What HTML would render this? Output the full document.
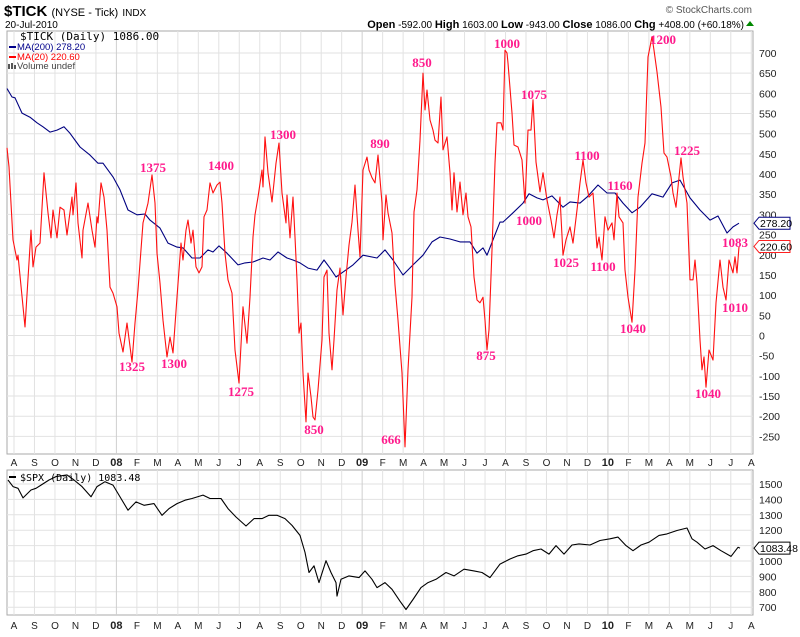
<!DOCTYPE html>
<html><head><meta charset="utf-8"><style>
body{margin:0;background:#fff;width:800px;height:637px;overflow:hidden}
svg{display:block}
text{font-family:"Liberation Sans",sans-serif}
</style></head><body>
<svg id="c" width="800" height="637" viewBox="0 0 800 637">
<g>
<text x="4" y="16" font-size="15" font-weight="bold">$TICK <tspan font-size="11" font-weight="normal">(NYSE - Tick)</tspan> <tspan font-size="10" font-weight="normal">INDX</tspan></text>
<text x="5" y="28" font-size="10">20-Jul-2010</text>
<text x="752" y="13" font-size="10" text-anchor="end" fill="#555">© StockCharts.com</text>
<text x="744" y="28" font-size="10" text-anchor="end"><tspan font-weight="bold" font-size="11">Open</tspan> -592.00 <tspan font-weight="bold" font-size="11">High</tspan> 1603.00 <tspan font-weight="bold" font-size="11">Low</tspan> -943.00 <tspan font-weight="bold" font-size="11">Close</tspan> 1086.00 <tspan font-weight="bold" font-size="11">Chg</tspan> +408.00 (+60.18%)</text>
<polygon points="746,26 754,26 750,21" fill="#080"/>
</g>
<g id="grid"></g>
<g id="marks"></g>
<g id="notes"></g>
<g>
<text x="20" y="40" font-size="11" font-family="Liberation Mono" style="font-family:'DejaVu Sans Mono','Liberation Mono',monospace">$TICK (Daily) 1086.00</text>
<line x1="9" y1="47" x2="16" y2="47" stroke="#00008b" stroke-width="2"/>
<text x="17" y="50" font-size="9.5" fill="#00008b">MA(200) 278.20</text>
<line x1="9" y1="57" x2="16" y2="57" stroke="#f00" stroke-width="2"/>
<text x="17" y="60" font-size="9.5" fill="#f00">MA(20) 220.60</text>
<rect x="8" y="64" width="2" height="5" fill="#555"/><rect x="11" y="63" width="2" height="6" fill="#555"/><rect x="14" y="65" width="2" height="4" fill="#555"/>
<text x="17" y="69" font-size="9.5" fill="#444">Volume undef</text>
<line x1="9" y1="477" x2="16" y2="477" stroke="#000" stroke-width="2"/>
<text x="20" y="481" font-size="10" style="font-family:'DejaVu Sans Mono',monospace">$SPX (Daily) 1083.48</text>
</g>
</svg>
<script>
// ---- data ----
const monthLabels=["A","S","O","N","D","08","F","M","A","M","J","J","A","S","O","N","D","09","F","M","A","M","J","J","A","S","O","N","D","10","F","M","A","M","J","J","A"];
const tickTicks=[700,650,600,550,500,450,400,350,300,250,200,150,100,50,0,-50,-100,-150,-200,-250];
const spxTicks=[1500,1400,1300,1200,1100,1000,900,800,700];
// [session, value]
const ma20=[[0,465],[2,418],[6,237],[10,187],[11,199],[18,21],[24,261],[26,170],[29,219],[33,229],[37,403],[41,304],[44,242],[46,311],[50,242],[53,318],[57,311],[60,249],[65,343],[66,299],[69,378],[71,279],[75,192],[76,261],[81,328],[85,261],[88,219],[90,294],[91,279],[94,378],[97,343],[100,261],[103,120],[106,105],[110,71],[112,6],[116,-41],[120,31],[125,-66],[128,31],[131,113],[136,279],[141,328],[145,398],[148,328],[150,204],[153,130],[156,38],[160,-53],[163,-4],[166,-43],[170,95],[174,229],[176,187],[179,261],[181,286],[184,229],[186,261],[189,170],[192,155],[195,170],[197,294],[200,311],[203,378],[206,353],[210,373],[213,380],[215,328],[218,204],[221,138],[225,105],[228,-36],[232,-118],[236,71],[240,-19],[243,95],[246,244],[248,299],[251,343],[255,410],[256,368],[258,492],[261,403],[265,331],[269,427],[272,477],[275,353],[279,279],[280,348],[283,242],[286,343],[288,244],[290,138],[292,6],[294,31],[296,-93],[299,-214],[301,-93],[304,-152],[306,-202],[308,-209],[311,-135],[315,-11],[317,145],[320,162],[322,6],[325,-85],[327,-11],[330,113],[333,167],[336,51],[339,145],[342,224],[345,281],[348,373],[351,261],[353,195],[356,410],[360,442],[362,410],[365,391],[368,378],[371,447],[375,328],[376,237],[379,348],[381,304],[385,254],[388,125],[391,38],[395,-93],[398,-276],[401,-85],[405,95],[407,306],[410,361],[413,484],[416,650],[418,559],[420,608],[423,534],[426,509],[428,484],[431,477],[434,591],[436,460],[440,492],[443,403],[445,311],[447,403],[450,306],[453,380],[456,299],[459,353],[461,294],[464,269],[467,145],[470,88],[473,81],[476,95],[478,38],[480,-36],[482,14],[485,212],[488,427],[490,527],[494,527],[496,509],[498,707],[500,700],[501,675],[505,551],[507,472],[511,467],[515,435],[518,328],[521,509],[524,509],[526,584],[529,430],[533,356],[536,403],[540,336],[544,286],[547,242],[550,299],[553,343],[556,199],[559,237],[563,269],[566,229],[570,311],[573,378],[576,435],[579,378],[582,343],[586,353],[590,217],[592,244],[595,187],[598,294],[601,261],[605,279],[607,237],[610,353],[612,294],[616,279],[618,162],[621,95],[625,33],[628,162],[631,343],[635,427],[638,477],[641,690],[645,740],[647,707],[650,653],[654,566],[657,452],[660,442],[664,393],[666,353],[669,318],[671,368],[674,440],[676,393],[680,328],[683,138],[686,138],[688,187],[690,130],[693,-11],[695,-85],[697,-53],[699,-128],[702,-36],[706,-61],[709,81],[713,187],[716,120],[719,88],[722,187],[726,155],[728,195],[730,155],[732,220.6]];
const ma200=[[0,612],[5,591],[8,589],[15,551],[23,541],[30,527],[36,517],[43,504],[50,509],[57,517],[63,501],[73,467],[83,447],[91,427],[96,427],[106,393],[113,361],[121,311],[130,299],[138,301],[143,286],[153,266],[161,229],[170,219],[176,217],[185,192],[193,192],[201,212],[206,207],[212,222],[220,204],[231,175],[238,180],[246,182],[256,192],[263,187],[271,207],[280,192],[286,187],[293,180],[301,167],[310,162],[317,187],[323,167],[329,145],[336,157],[346,175],[356,199],[370,192],[378,212],[386,187],[396,150],[406,175],[416,199],[425,232],[433,244],[443,239],[453,232],[463,232],[470,204],[476,217],[480,199],[486,237],[493,281],[496,281],[506,304],[516,328],[522,351],[530,341],[536,336],[545,346],[556,318],[563,331],[573,328],[580,343],[591,373],[600,353],[608,353],[616,328],[625,304],[633,318],[645,351],[656,343],[665,378],[673,385],[683,341],[693,311],[703,286],[711,296],[720,254],[726,269],[732,278.2]];
const spx=[[1,1526],[6,1483],[11,1472],[16,1410],[24,1461],[29,1472],[34,1493],[42,1526],[49,1548],[60,1559],[67,1526],[75,1483],[84,1417],[90,1483],[98,1515],[106,1493],[114,1406],[121,1330],[129,1384],[137,1362],[147,1373],[155,1297],[162,1340],[170,1373],[178,1395],[185,1406],[196,1428],[203,1406],[214,1406],[221,1340],[229,1286],[239,1227],[247,1275],[255,1275],[262,1297],[270,1297],[278,1275],[285,1231],[293,1166],[298,1056],[302,925],[307,969],[312,860],[319,1002],[324,925],[329,860],[330,772],[334,881],[342,903],[352,892],[358,936],[365,881],[370,827],[378,860],[385,816],[393,739],[399,685],[406,750],[414,827],[421,860],[429,881],[439,925],[447,903],[457,947],[467,936],[475,925],[483,892],[493,980],[503,1013],[511,1034],[519,1045],[526,1067],[534,1078],[542,1045],[549,1100],[557,1045],[565,1104],[572,1111],[583,1104],[593,1133],[603,1144],[611,1155],[619,1100],[626,1067],[634,1104],[642,1122],[652,1166],[660,1176],[670,1198],[680,1214],[685,1144],[690,1122],[698,1078],[706,1100],[714,1067],[724,1030],[731,1089],[733,1083.48]];
const notes=[["1375",153,172],["1400",221,170],["1300",283,139],["890",380,148],["850",422,67],["1000",507,48],["1075",534,99],["1100",587,160],["1160",620,190],["1200",663,44],["1225",687,155],["1083",735,247],["1010",735,312],["1040",633,333],["1040",708,398],["1100",603,271],["1025",566,267],["1000",529,225],["875",486,360],["666",391,444],["850",314,434],["1275",241,396],["1300",174,368],["1325",132,371]];

// ---- scales ----
const L=7,R=753,T1=31,B1=454,T2=470,B2=615;
const xs=d=>7+d;
const yT=v=>335.5-v*0.4036;
const yS=v=>484+(1500-v)*0.154;
const mx=i=>14+i*20.48;
const NS="http://www.w3.org/2000/svg";
function mk(tag,attrs,parent){const e=document.createElementNS(NS,tag);for(const k in attrs)e.setAttribute(k,attrs[k]);parent.appendChild(e);return e;}
const grid=document.getElementById('grid'),marks=document.getElementById('marks'),notesG=document.getElementById('notes');

// panels
[[T1,B1,'top-panel'],[T2,B2,'bottom-panel']].forEach(([t,b,n])=>{
  const r=mk('rect',{x:L,y:t,width:R-L,height:b-t,fill:'#fff',stroke:'#aaa'},grid);
  
  
});
tickTicks.forEach(v=>{
  const y=yT(v);
  const l=mk('line',{x1:L,x2:R,y1:y,y2:y,stroke:'#e2e2e2'},grid);
  
  
  const t=mk('text',{x:759,y:y+4,'font-size':10.5,fill:'#222'},grid);t.textContent=v;
  
  
});
spxTicks.forEach(v=>{
  const y=yS(v);
  const l=mk('line',{x1:L,x2:R,y1:y,y2:y,stroke:'#e2e2e2'},grid);
  
  
  if(v!==1100){const t=mk('text',{x:759,y:y+4,'font-size':10.5,fill:'#222'},grid);t.textContent=v;
  
  }
});
monthLabels.forEach((m,i)=>{
  const x=mx(i),yr=/\d/.test(m);
  [[T1,B1],[T2,B2]].forEach(([t,b])=>{
    const l=mk('line',{x1:x,x2:x,y1:t,y2:b,stroke:yr?'#cfcfcf':'#e2e2e2'},grid);
    
    
  });
  [466,629].forEach(y=>{
    const t=mk('text',{x:x,y:y,'font-size':yr?11:10,'font-weight':yr?'bold':'normal','text-anchor':'middle',fill:'#222'},grid);t.textContent=m;
    
    
  });
});

function line(data,ys,color,name){
  const p=mk('polyline',{points:data.map(d=>xs(d[0]).toFixed(1)+','+ys(d[1]).toFixed(1)).join(' '),fill:'none',stroke:color,'stroke-width':1.1,'stroke-linejoin':'round'},marks);
  
  
}
line(ma200,yT,'#000080','ma200-line');
line(ma20,yT,'#ff1010','ma20-line');
line(spx,yS,'#000','spx-line');

function tag(v,ys,color,txt,name){
  const y=ys(v);
  const g=mk('g',{},marks);
  
  
  mk('polygon',{points:`754,${y} 759,${y-6} 790,${y-6} 790,${y+6} 759,${y+6}`,fill:'#fff',stroke:color},g);
  const t=mk('text',{x:760,y:y+4,'font-size':10.5,fill:'#000'},g);t.textContent=txt;
}
tag(ma200[ma200.length-1][1],yT,'#000080','278.20','ma200-value-tag');
tag(ma20[ma20.length-1][1],yT,'#ff2020','220.60','ma20-value-tag');
tag(spx[spx.length-1][1],yS,'#000','1083.48','spx-value-tag');

notes.forEach(n=>{
  const t=mk('text',{x:n[1],y:n[2],'font-size':13,'font-weight':'bold','text-anchor':'middle',fill:'#ff1a8c',style:'font-family:"Liberation Serif",serif'},notesG);
  t.textContent=n[0];
  
  
});
</script>
</body></html>
